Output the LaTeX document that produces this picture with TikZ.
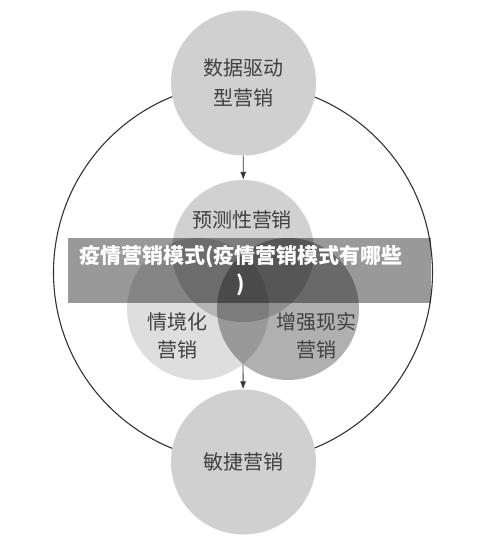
\documentclass[tikz,border=0pt]{standalone}
\usepackage{fontspec}
\newfontfamily\cjk{Noto Sans CJK SC}
\usetikzlibrary{arrows.meta}

\definecolor{stagegray}{gray}{0.815}
\definecolor{predgray}{gray}{0.82}
\definecolor{leftgray}{gray}{0.87}
\definecolor{rightgray}{gray}{0.69}
\definecolor{labelgray}{gray}{0.25}
\definecolor{ringgray}{gray}{0.2}

\begin{document}
\begin{tikzpicture}[x=1pt, y=-1pt,
    stage/.style={circle, minimum size=145pt, inner sep=0pt, fill=stagegray,
      text=labelgray, align=center, font=\cjk\fontsize{20}{30}\selectfont},
    venn/.style={circle, minimum size=142pt, inner sep=0pt},
    venntext/.style={text=labelgray, align=center, font=\cjk\fontsize{20}{28}\selectfont},
    flow/.style={-{Latex[length=8pt, width=6pt]}, ringgray, line width=0.9pt}]
        \useasboundingbox (0,0) rectangle (500,542);

        % Outer ring
        \node[circle, draw=ringgray, line width=1.1pt, minimum size=379pt, inner sep=0pt] (ring) at (243,272.5) {};

        % Top and bottom stages
        \node[stage] (data) at (243.5,83) {数据驱动\\型营销};
        \node[stage] (agile) at (243.5,462) {敏捷营销};

        % Overlapping middle circles
        \begin{scope}[blend group=multiply]
          \node[venn, fill=predgray] (pred) at (243,251) {};
          \node[venn, fill=leftgray] (situ) at (198,309) {};
          \node[venn, fill=rightgray] (ar) at (288,309) {};
        \end{scope}
        \node[venntext] (predtext) at (242,220) {预测性营销};
        \node[venntext] (situtext) at (177,336) {情境化\\营销};
        \node[venntext] (artext) at (316,336) {增强现实\\营销};

        % Arrows
        \coordinate (lens) at (243,364);
        \draw[flow] (data) -- (pred);
        \draw[flow] (lens) -- (agile);

        % Title band
        \fill[black, opacity=0.4] (68,238) rectangle (431,303);
        \node[text=white, align=center, font=\cjk\bfseries\fontsize{21}{28}\selectfont] (title) at (241,271) {疫情营销模式(疫情营销模式有哪些\\)};
\end{tikzpicture}
\end{document}
